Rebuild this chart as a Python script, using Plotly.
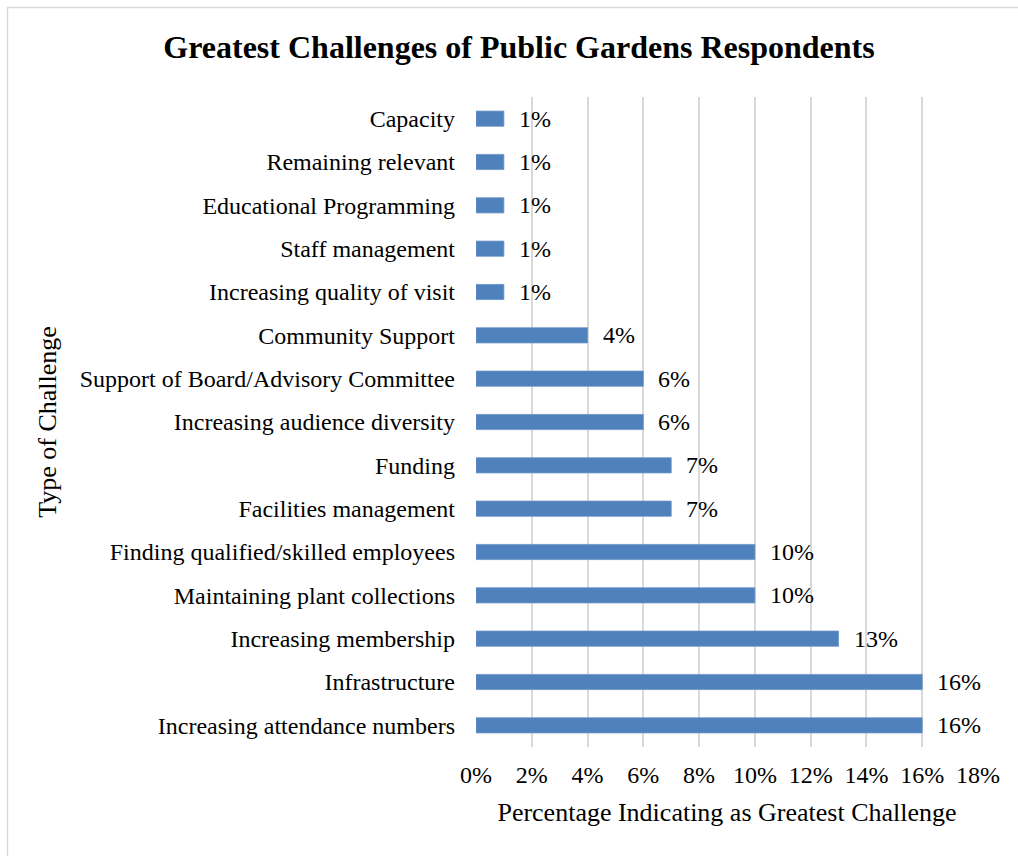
import plotly.graph_objects as go

categories = [
    "Capacity",
    "Remaining relevant",
    "Educational Programming",
    "Staff management",
    "Increasing quality of visit",
    "Community Support",
    "Support of Board/Advisory Committee",
    "Increasing audience diversity",
    "Funding",
    "Facilities management",
    "Finding qualified/skilled employees",
    "Maintaining plant collections",
    "Increasing membership",
    "Infrastructure",
    "Increasing attendance numbers",
]
values = [1, 1, 1, 1, 1, 4, 6, 6, 7, 7, 10, 10, 13, 16, 16]
x_ticks = [0, 2, 4, 6, 8, 10, 12, 14, 16, 18]
x_tick_labels = [f"{t}%" for t in x_ticks]

FONT = "Times New Roman, Liberation Serif, serif"
W, H = 1018, 856
L, R, T, B = 476, 40, 97, 109

fig = go.Figure()
fig.add_trace(go.Bar(
    x=values,
    y=categories,
    orientation="h",
    width=0.35,
    marker=dict(color="#4F81BD", line=dict(color="#6A94C8", width=0.8)),
    hoverinfo="skip",
))

for c, v in zip(categories, values):
    fig.add_annotation(
        x=v, y=c, xref="x", yref="y",
        text=f"{v}%", showarrow=False,
        xanchor="left", yanchor="middle", xshift=13,
        font=dict(family=FONT, size=24, color="#000000"),
    )

pw = W - L - R
ph = H - T - B
def px_to_paper_x(px):
    return (px - L) / pw
def px_to_paper_y(py):
    return (H - B - py) / ph

fig.add_shape(
    type="rect", xref="paper", yref="paper",
    x0=px_to_paper_x(7.5), x1=px_to_paper_x(1040),
    y0=px_to_paper_y(880), y1=px_to_paper_y(7.5),
    line=dict(color="#D9D9D9", width=1.5),
    fillcolor="rgba(0,0,0,0)", layer="below",
)

fig.update_layout(
    width=W, height=H,
    margin=dict(l=L, r=R, t=T, b=B),
    paper_bgcolor="white", plot_bgcolor="white",
    showlegend=False,
    title=dict(
        text="<b>Greatest Challenges of Public Gardens Respondents</b>",
        x=px_to_paper_x(519), xref="paper", xanchor="center",
        y=1 - 47 / H, yref="container", yanchor="middle",
        font=dict(family=FONT, size=32, color="#000000"),
    ),
    font=dict(family=FONT, size=24, color="#000000"),
)

fig.update_xaxes(
    range=[0, 18],
    tickvals=x_ticks, ticktext=x_tick_labels,
    showgrid=True, gridcolor="#D9D9D9", gridwidth=1.5,
    zeroline=False, showline=False, ticks="",
    ticklabelstandoff=11,
    tickfont=dict(family=FONT, size=24, color="#000000"),
    title=dict(text="Percentage Indicating as Greatest Challenge",
               font=dict(family=FONT, size=26, color="#000000"), standoff=15),
    fixedrange=True,
)
fig.update_yaxes(
    categoryorder="array", categoryarray=categories,
    autorange="reversed",
    showgrid=False, zeroline=False, showline=False, ticks="",
    ticklabelstandoff=20,
    tickfont=dict(family=FONT, size=24, color="#000000"),
    title=dict(text="Type of Challenge",
               font=dict(family=FONT, size=26, color="#000000"), standoff=15),
    fixedrange=True,
)

fig.write_html("out.html")
